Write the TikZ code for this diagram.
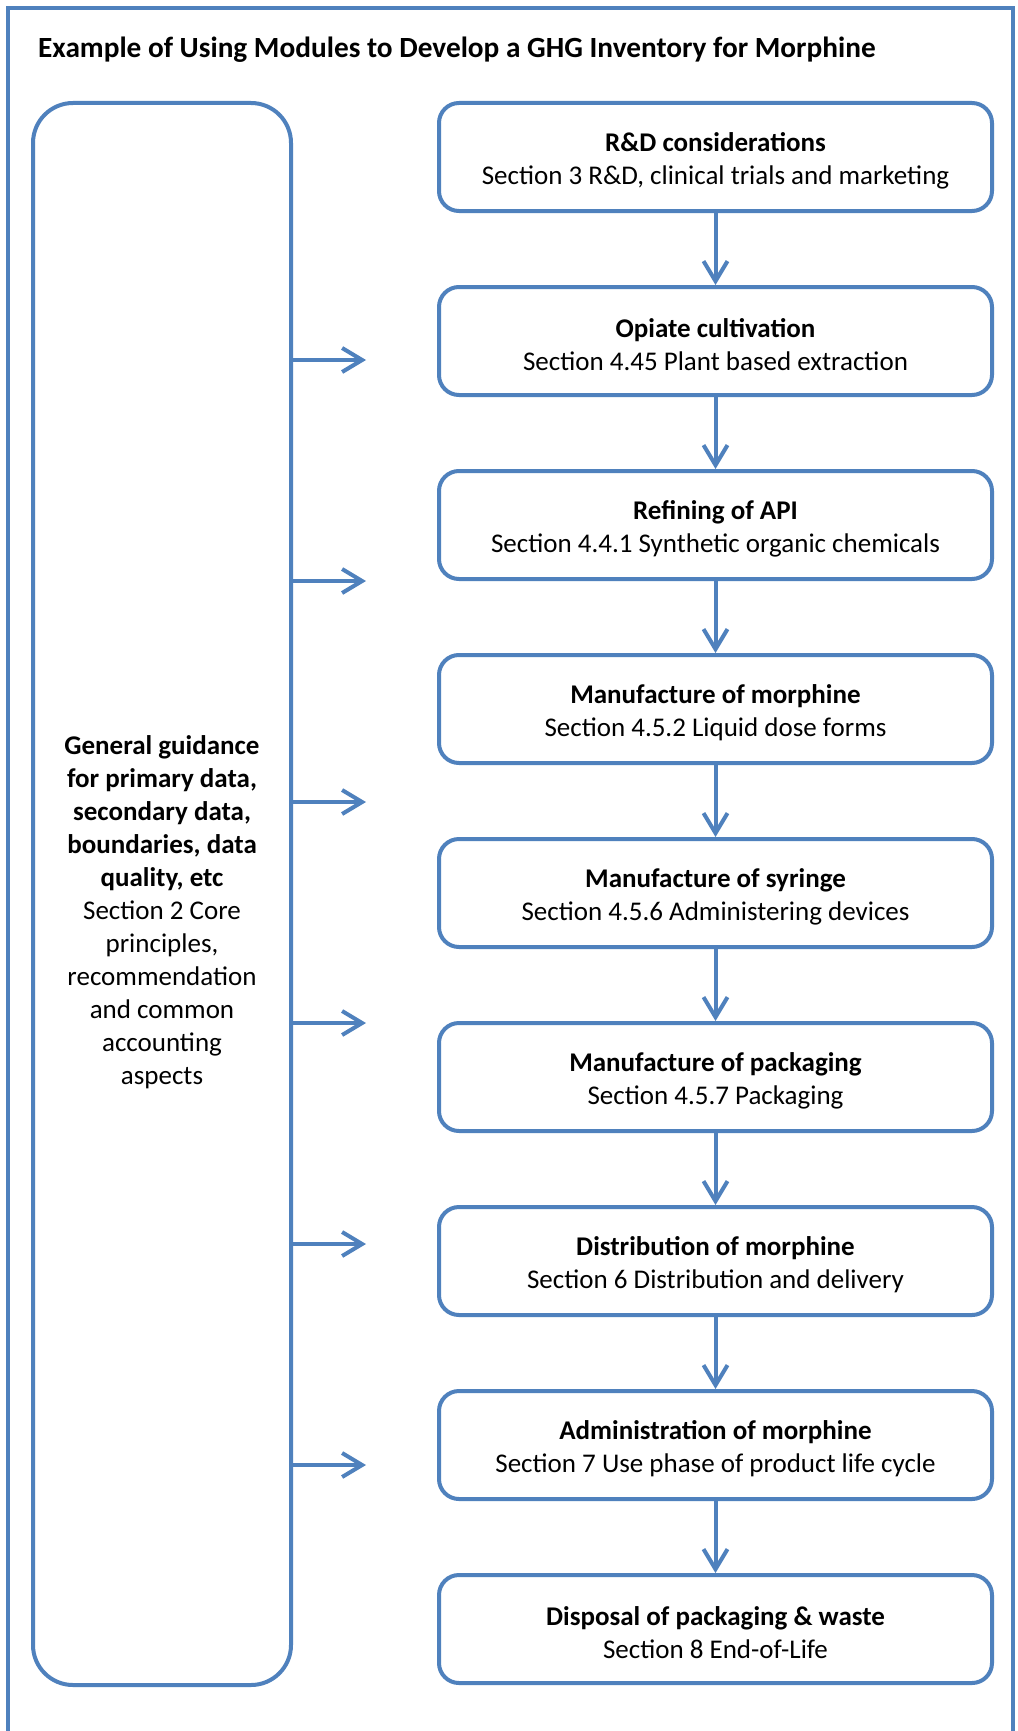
\documentclass[tikz,border=0pt]{standalone}
\usepackage{fontspec}
\setmainfont{Carlito}
\usetikzlibrary{arrows.meta}
\definecolor{ob}{HTML}{4F81BD}
\begin{document}
\begin{tikzpicture}[x=1pt,y=-1pt,
  txt/.style={font=\fontsize{27}{33}\selectfont, align=center, inner sep=0pt},
  stepbox/.style={draw=ob, line width=4pt, rounded corners=20pt, minimum width=553pt, minimum height=108pt, inner sep=0pt},
  conn/.style={draw=ob, line width=4pt, -{Straight Barb[length=20pt,width=24pt]}}]
\useasboundingbox (0,0) rectangle (1017,1731);
\fill[white] (0,0) rectangle (1017,1731);
\draw[ob, line width=4pt] (8,8) rectangle (1013,1750);
\node[anchor=west, font=\bfseries\fontsize{29.3}{35}\selectfont, inner sep=0pt] (title) at (38,50) {Example of Using Modules to Develop a GHG Inventory for Morphine};
% left box
\node[draw=ob, line width=4pt, rounded corners=40pt, minimum width=258pt, minimum height=1582pt] (gen) at (162,894) {};
\node[txt] (gentext) at (162,912) {\textbf{General guidance}\\\textbf{for primary data,}\\\textbf{secondary data,}\\\textbf{boundaries, data}\\\textbf{quality, etc}\\Section 2 Core\\principles,\\recommendation\\and common\\accounting\\aspects};
% right boxes
\node[stepbox] (b1) at (715.5,157) {};
\node[stepbox] (b2) at (715.5,341) {};
\node[stepbox] (b3) at (715.5,525) {};
\node[stepbox] (b4) at (715.5,709) {};
\node[stepbox] (b5) at (715.5,893) {};
\node[stepbox] (b6) at (715.5,1077) {};
\node[stepbox] (b7) at (715.5,1261) {};
\node[stepbox] (b8) at (715.5,1445) {};
\node[stepbox] (b9) at (715.5,1629) {};
\node[txt] (t1) at (715.5,161) {\textbf{R\&D considerations}\\Section 3 R\&D, clinical trials and marketing};
\node[txt] (t2) at (715.5,345) {\textbf{Opiate cultivation}\\Section 4.45 Plant based extraction};
\node[txt] (t3) at (715.5,529) {\textbf{Refining of API}\\Section 4.4.1 Synthetic organic chemicals};
\node[txt] (t4) at (715.5,713) {\textbf{Manufacture of morphine}\\Section 4.5.2 Liquid dose forms};
\node[txt] (t5) at (715.5,897) {\textbf{Manufacture of syringe}\\Section 4.5.6 Administering devices};
\node[txt] (t6) at (715.5,1081) {\textbf{Manufacture of packaging}\\Section 4.5.7 Packaging};
\node[txt] (t7) at (715.5,1265) {\textbf{Distribution of morphine}\\Section 6 Distribution and delivery};
\node[txt] (t8) at (715.5,1449) {\textbf{Administration of morphine}\\Section 7 Use phase of product life cycle};
\node[txt] (t9) at (715.5,1633) {\textbf{Disposal of packaging \& waste}\\Section 8 End-of-Life};
% vertical arrows
\draw[conn] (b1.south) -- (b2.north);
\draw[conn] (b2.south) -- (b3.north);
\draw[conn] (b3.south) -- (b4.north);
\draw[conn] (b4.south) -- (b5.north);
\draw[conn] (b5.south) -- (b6.north);
\draw[conn] (b6.south) -- (b7.north);
\draw[conn] (b7.south) -- (b8.north);
\draw[conn] (b8.south) -- (b9.north);
% horizontal arrows
\coordinate (h1) at (366,360);
\coordinate (h2) at (366,581);
\coordinate (h3) at (366,802);
\coordinate (h4) at (366,1023);
\coordinate (h5) at (366,1244);
\coordinate (h6) at (366,1465);
\draw[conn] (gen.east |- h1) -- (h1);
\draw[conn] (gen.east |- h2) -- (h2);
\draw[conn] (gen.east |- h3) -- (h3);
\draw[conn] (gen.east |- h4) -- (h4);
\draw[conn] (gen.east |- h5) -- (h5);
\draw[conn] (gen.east |- h6) -- (h6);
\end{tikzpicture}
\end{document}
